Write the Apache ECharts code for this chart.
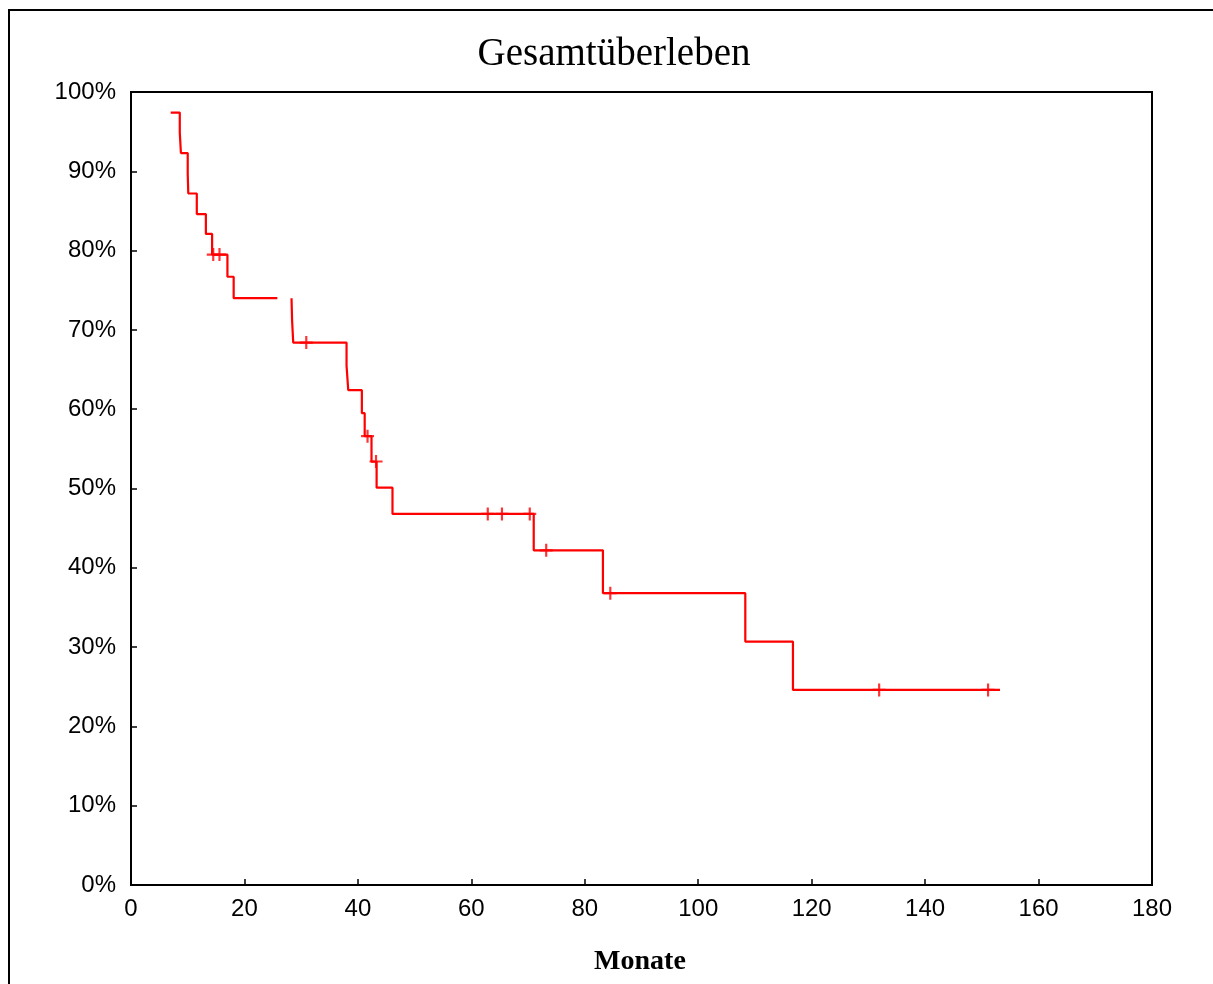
<!DOCTYPE html>
<html>
<head>
<meta charset="utf-8">
<title>Gesamtüberleben</title>
<script src="https://cdn.jsdelivr.net/npm/echarts@6/dist/echarts.min.js"></script>
<style>
    html, body {
        margin: 0;
        padding: 0;
        background: #fff;
    }
    #chart {
        width: 1213px;
        height: 984px;
    }
</style>
</head>
<body>
<div id="chart"></div>
<script>
// Kaplan-Meier Stufen: Zeitpunkt (Monate) und Überleben (%)
// null = Lücke in der Linie wie im Original
const stepTimes = [7.0, 8.6, 8.8, 10.0, 10.1, 11.6, 13.2, 14.3, 17.0, 18.1, 25.8, null,
    28.3, 28.4, 28.6, 38.0, 38.3, 40.7, 41.2, 42.4, 43.3, 46.1, 71.0, 83.2, 108.3, 116.7, 153.2]
const stepSurv = [97.4, 94.9, 92.3, 89.7, 87.2, 84.6, 82.1, 79.5, 76.7, 74.0, 74.0, null,
    74.0, 71.2, 68.4, 65.5, 62.4, 59.5, 56.6, 53.4, 50.1, 46.8, 42.2, 36.8, 30.7, 24.6, 24.6]

// zensierte Beobachtungen (+)
const censorTimes = [14.5, 15.6, 30.9, 41.7, 43.2, 62.9, 65.4, 70.3, 73.2, 84.5, 131.9, 151.1]
const censorSurv = [79.5, 79.5, 68.4, 56.6, 53.4, 46.8, 46.8, 46.8, 42.2, 36.8, 24.6, 24.6]

const xTicks = [0, 20, 40, 60, 80, 100, 120, 140, 160, 180]
const yTicks = [0, 10, 20, 30, 40, 50, 60, 70, 80, 90, 100]

const chart = echarts.init(document.getElementById('chart'))

const lineData = stepTimes.map((t, i) => t === null ? [null, null] : [t, stepSurv[i]])
const censorData = censorTimes.map((t, i) => [t, censorSurv[i]])

chart.setOption({
    animation: false,
    backgroundColor: '#fff',
    title: {
        text: 'Gesamtüberleben',
        left: 609,
        top: 30,
        textAlign: 'center',
        textStyle: {
            fontFamily: 'Liberation Serif',
            fontSize: 39,
            fontWeight: 'normal',
            color: '#000'
        }
    },
    graphic: [
        {
            type: 'rect',
            shape: { x: 9, y: 10, width: 1260, height: 1050 },
            style: { fill: 'none', stroke: '#000', lineWidth: 2 },
            silent: true
        },
        {
            type: 'text',
            x: 640,
            y: 948,
            style: {
                text: 'Monate',
                fontFamily: 'Liberation Serif',
                fontSize: 28,
                fontWeight: 'bold',
                fill: '#000',
                align: 'center',
                verticalAlign: 'top'
            },
            silent: true
        }
    ],
    grid: {
        left: 131,
        top: 92,
        width: 1021,
        height: 793,
        show: true,
        borderColor: '#000',
        borderWidth: 2,
        backgroundColor: '#fff'
    },
    xAxis: {
        type: 'value',
        min: xTicks[0],
        max: xTicks[xTicks.length - 1],
        interval: 20,
        axisLine: { show: true, lineStyle: { color: '#000', width: 2 } },
        axisTick: { show: true, inside: true, length: 6, lineStyle: { color: '#000', width: 1.5 } },
        splitLine: { show: false },
        axisLabel: {
            margin: 12,
            fontFamily: 'Liberation Sans',
            fontSize: 24,
            color: '#000'
        }
    },
    yAxis: {
        type: 'value',
        min: yTicks[0],
        max: yTicks[yTicks.length - 1],
        interval: 10,
        axisLine: { show: true, lineStyle: { color: '#000', width: 2 } },
        axisTick: { show: true, inside: true, length: 6, lineStyle: { color: '#000', width: 1.5 } },
        splitLine: { show: false },
        axisLabel: {
            margin: 15,
            formatter: '{value}%',
            fontFamily: 'Liberation Sans',
            fontSize: 24,
            color: '#000'
        }
    },
    series: [
        {
            name: 'Überleben',
            type: 'line',
            step: 'end',
            data: lineData,
            connectNulls: false,
            showSymbol: false,
            symbol: 'none',
            lineStyle: { color: '#ff0000', width: 2.2 },
            z: 3
        },
        {
            name: 'zensiert',
            type: 'scatter',
            data: censorData,
            symbol: 'path://M5,0h2v5h5v2h-5v5h-2v-5h-5v-2h5z',
            symbolSize: [13, 13],
            itemStyle: { color: '#ff0000' },
            z: 4
        }
    ]
})
</script>
</body>
</html>
